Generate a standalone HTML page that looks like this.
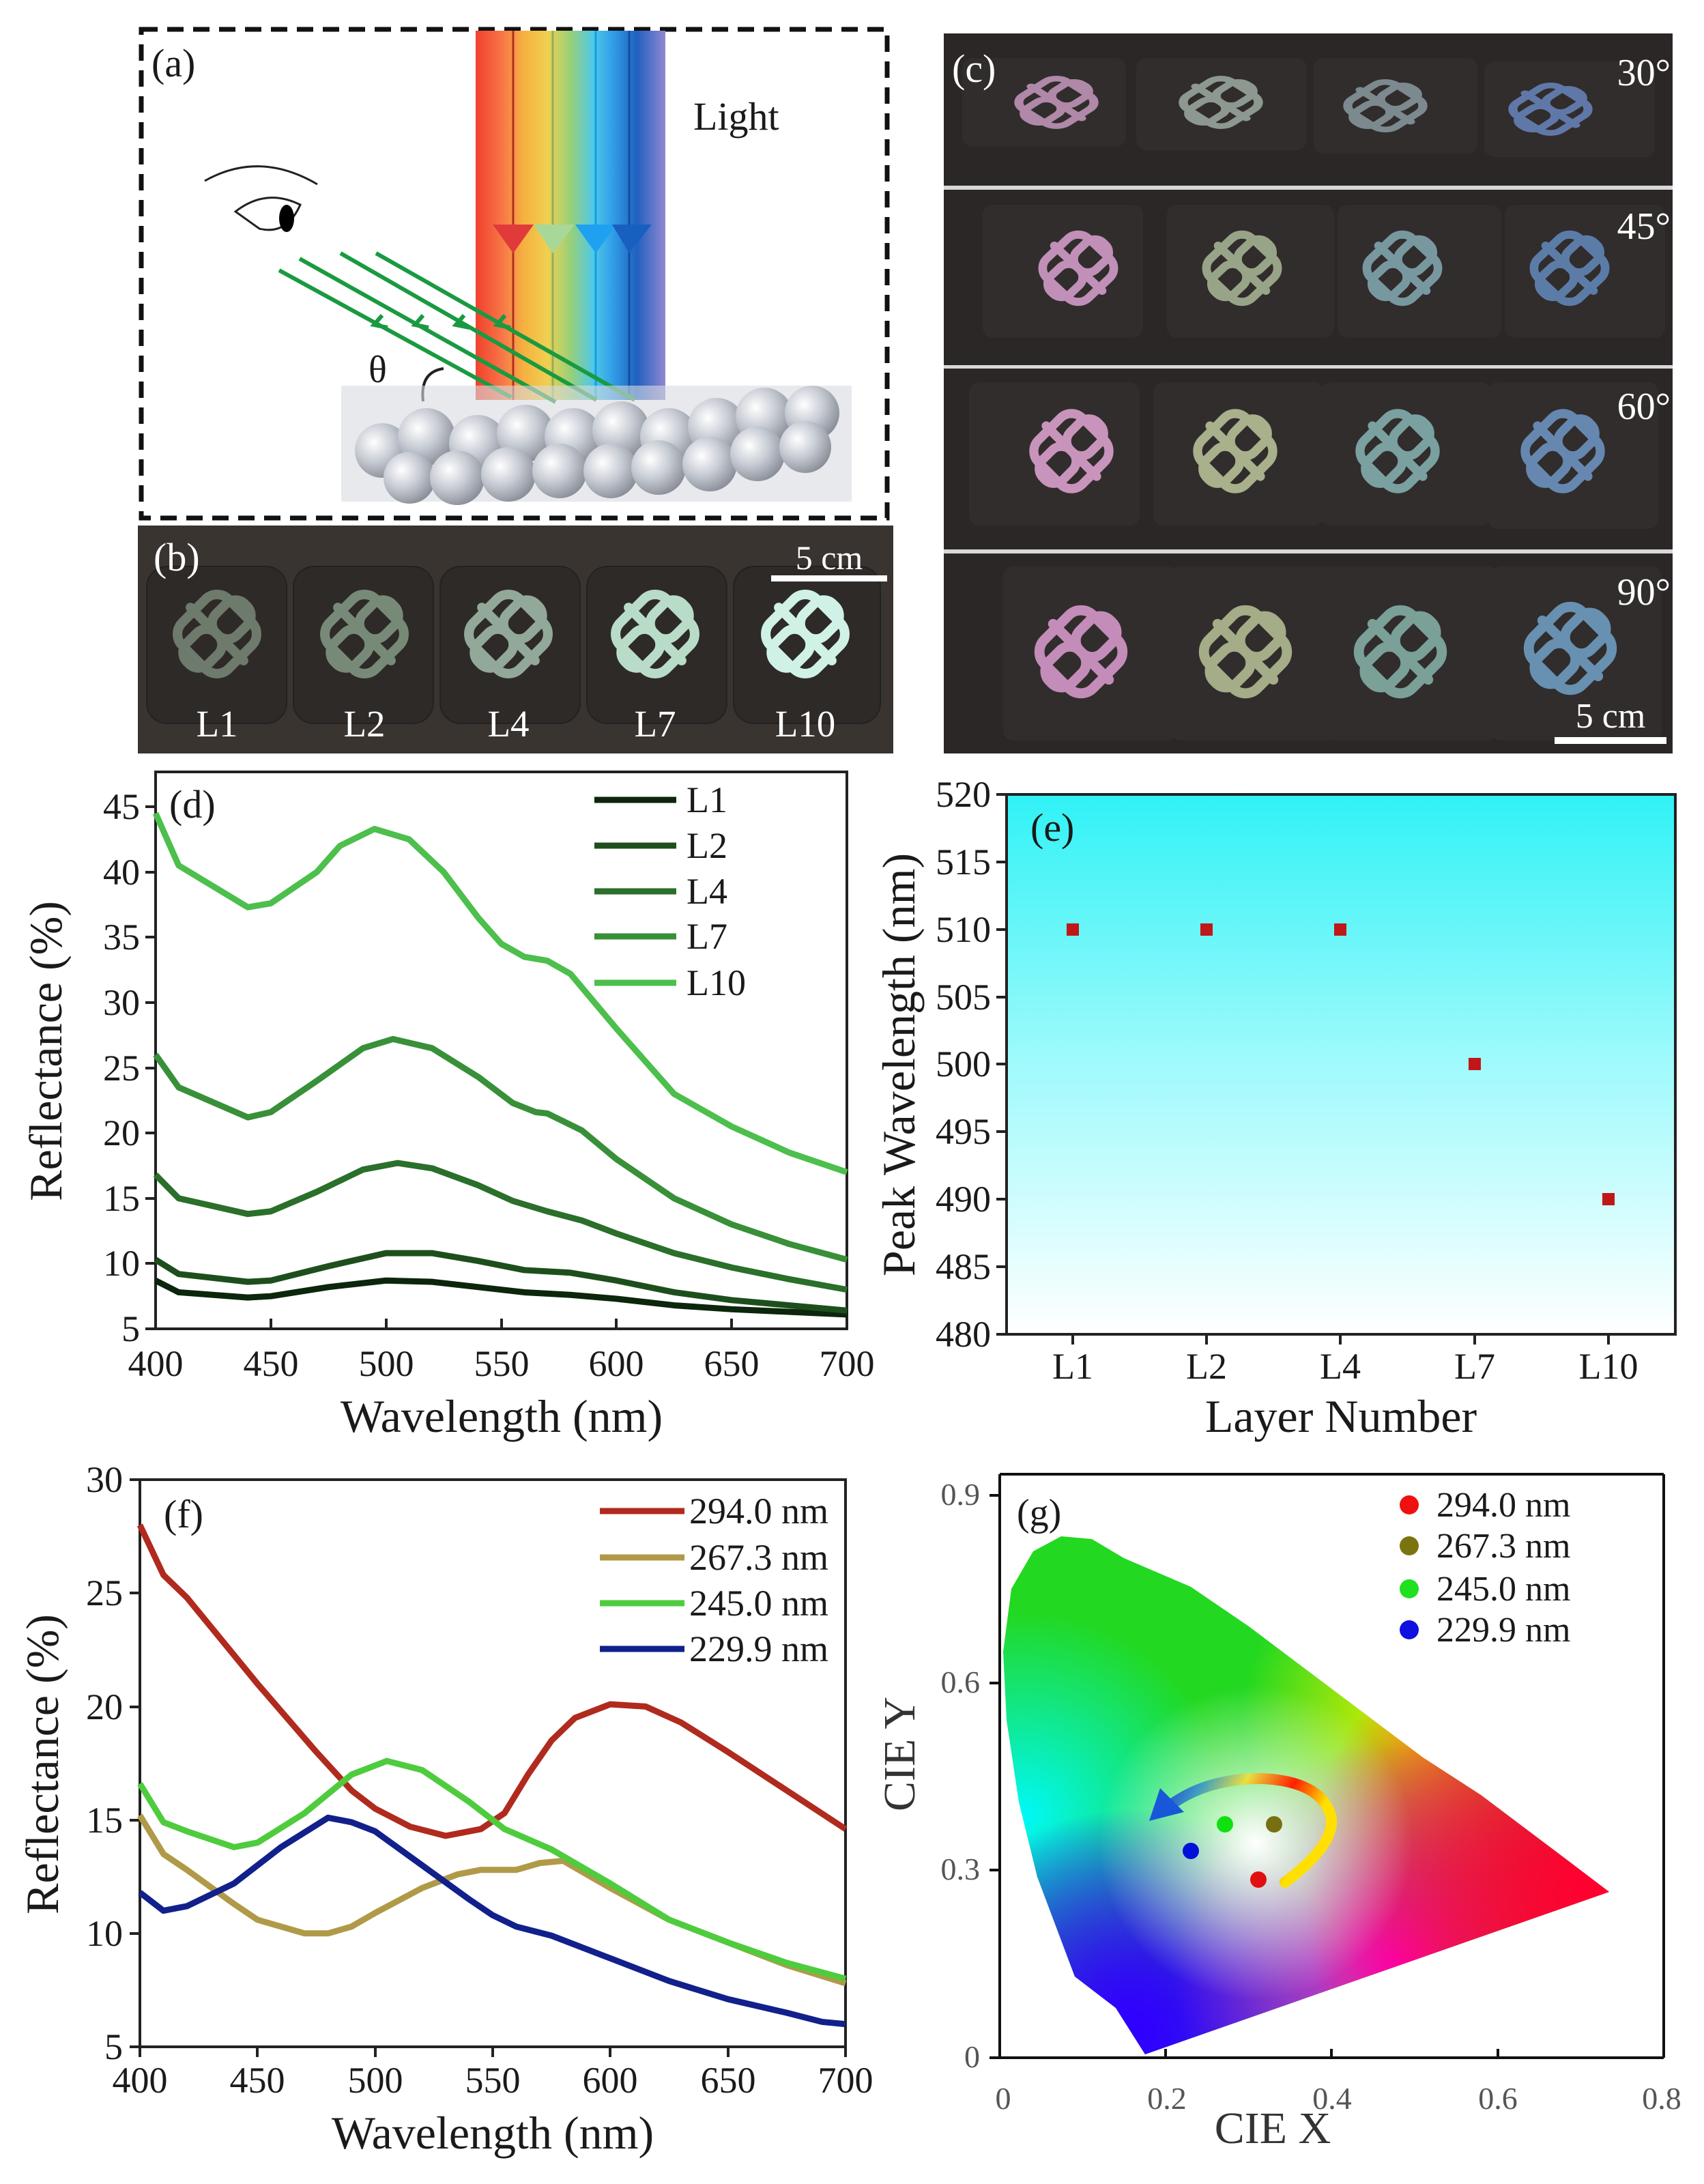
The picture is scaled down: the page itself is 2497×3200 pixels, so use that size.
<!DOCTYPE html>
<html><head><meta charset="utf-8"><style>
html,body{margin:0;padding:0;background:#fff}
svg{display:block}
text{font-family:"Liberation Serif",serif;fill:#1a1a1a}
</style></head><body>
<svg width="2497" height="3200" viewBox="0 0 2497 3200" xmlns="http://www.w3.org/2000/svg">
<defs>
<linearGradient id="rb" x1="0" x2="1" y1="0" y2="0">
<stop offset="0" stop-color="#f0402e"/><stop offset="0.15" stop-color="#f87a48"/><stop offset="0.25" stop-color="#f6b040"/><stop offset="0.38" stop-color="#f0d050"/><stop offset="0.5" stop-color="#98d078"/><stop offset="0.62" stop-color="#50c8e8"/><stop offset="0.72" stop-color="#30a0e8"/><stop offset="0.85" stop-color="#2060c0"/><stop offset="1" stop-color="#9088d0"/>
</linearGradient>
<radialGradient id="sph" cx="0.35" cy="0.35" r="0.7"><stop offset="0" stop-color="#ffffff"/><stop offset="0.5" stop-color="#c8ccd4"/><stop offset="1" stop-color="#8a8e98"/></radialGradient>
<linearGradient id="eg" x1="0" x2="0" y1="0" y2="1"><stop offset="0" stop-color="#30f2f6"/><stop offset="0.5" stop-color="#a0fafc"/><stop offset="1" stop-color="#ffffff"/></linearGradient>
<clipPath id="cie"><path d="M1678,3010 L1635,2942 L1575,2896 L1520,2750 L1493,2640 L1475,2520 L1470,2420 L1482,2328 L1514,2273 L1555,2251 L1600,2255 L1647,2283 L1745,2325 L1830,2383 L1915,2447 L2000,2511 L2085,2575 L2170,2630 L2243,2685 L2304,2731 L2358,2772 L1678,3010 Z"/></clipPath>
<radialGradient id="gW" cx="1840" cy="2700" r="230" gradientUnits="userSpaceOnUse"><stop offset="0" stop-color="#fff" stop-opacity="1"/><stop offset="1" stop-color="#fff" stop-opacity="0"/></radialGradient>
<radialGradient id="gR" cx="2358" cy="2770" r="450" gradientUnits="userSpaceOnUse"><stop offset="0" stop-color="#ff0030"/><stop offset="1" stop-color="#ff0030" stop-opacity="0"/></radialGradient>
<radialGradient id="gY" cx="2080" cy="2520" r="260" gradientUnits="userSpaceOnUse"><stop offset="0" stop-color="#f8f000"/><stop offset="1" stop-color="#f8f000" stop-opacity="0"/></radialGradient>
<radialGradient id="gM" cx="2050" cy="2880" r="330" gradientUnits="userSpaceOnUse"><stop offset="0" stop-color="#ff00ff"/><stop offset="1" stop-color="#ff00ff" stop-opacity="0"/></radialGradient>
<radialGradient id="gB" cx="1660" cy="2980" r="330" gradientUnits="userSpaceOnUse"><stop offset="0" stop-color="#3000ff"/><stop offset="1" stop-color="#3000ff" stop-opacity="0"/></radialGradient>
<radialGradient id="gC" cx="1500" cy="2660" r="300" gradientUnits="userSpaceOnUse"><stop offset="0" stop-color="#00f8f8"/><stop offset="1" stop-color="#00f8f8" stop-opacity="0"/></radialGradient>
<linearGradient id="arc" gradientUnits="userSpaceOnUse" x1="1880" y1="2760" x2="1690" y2="2660"><stop offset="0" stop-color="#ffe000"/><stop offset="0.25" stop-color="#ff2000"/><stop offset="0.55" stop-color="#e8e040"/><stop offset="0.8" stop-color="#40a0c0"/><stop offset="1" stop-color="#2050d0"/></linearGradient>
<g id="knot" fill="none" stroke-width="14" stroke-linecap="round">
<rect x="-48" y="-48" width="96" height="96" rx="24" transform="rotate(45)"/>
<rect x="-22" y="-60" width="44" height="60" rx="20" transform="rotate(45)"/>
<rect x="-22" y="0" width="44" height="60" rx="20" transform="rotate(45)"/>
<line x1="-55" y1="0" x2="55" y2="0" transform="rotate(45)"/>
</g>
</defs>

<!-- (a) -->
<rect x="207" y="43" width="1093" height="716" fill="#fff" stroke="#111" stroke-width="7" stroke-dasharray="24 14"/>
<text x="222" y="112" font-size="58">(a)</text>
<rect x="697" y="45" width="278" height="541" fill="url(#rb)"/>
<line x1="752" y1="45" x2="752" y2="586" stroke="#b03020" stroke-width="3"/>
<line x1="810" y1="45" x2="810" y2="586" stroke="#90b060" stroke-width="3"/>
<line x1="873" y1="45" x2="873" y2="586" stroke="#10a0e0" stroke-width="3"/>
<line x1="922" y1="45" x2="922" y2="586" stroke="#1050a0" stroke-width="3"/>
<polygon points="722,329 782,329 752,371" fill="#e03a3a"/>
<polygon points="782,329 842,329 810,371" fill="#a8d898"/>
<polygon points="843,329 903,329 873,371" fill="#20a0f0"/>
<polygon points="897,329 955,329 922,371" fill="#1860c0"/>
<text x="1016" y="190" font-size="58">Light</text>
<path d="M300,265 Q380,220 465,270" fill="none" stroke="#222" stroke-width="3"/>
<path d="M345,310 Q390,275 440,300 Q420,345 380,335 Z" fill="#fff" stroke="#222" stroke-width="3"/>
<ellipse cx="420" cy="320" rx="11" ry="20" fill="#000"/>
<g stroke="#1a9a40" stroke-width="6" fill="none">
<line x1="409" y1="396" x2="749" y2="582"/><line x1="439" y1="379" x2="814" y2="589"/>
<line x1="499" y1="371" x2="874" y2="586"/><line x1="551" y1="371" x2="930" y2="586"/>
<polyline points="560,462 548,476 568,480"/><polyline points="620,462 608,476 628,480"/>
<polyline points="680,462 668,476 688,480"/><polyline points="740,462 728,476 748,480"/>
</g>
<text x="540" y="560" font-size="56">θ</text>
<path d="M620,588 Q615,545 650,540" fill="none" stroke="#222" stroke-width="4"/>
<rect x="500" y="565" width="748" height="170" fill="#d8dadf" opacity="0.6"/>
<g fill="url(#sph)">
<circle cx="560" cy="660" r="40"/><circle cx="625" cy="640" r="42"/><circle cx="700" cy="650" r="42"/><circle cx="770" cy="635" r="42"/><circle cx="840" cy="640" r="42"/><circle cx="910" cy="630" r="42"/><circle cx="980" cy="640" r="42"/><circle cx="1050" cy="625" r="42"/><circle cx="1120" cy="610" r="42"/><circle cx="1190" cy="605" r="40"/>
<circle cx="600" cy="700" r="38"/><circle cx="670" cy="700" r="40"/><circle cx="745" cy="695" r="40"/><circle cx="820" cy="690" r="40"/><circle cx="895" cy="690" r="40"/><circle cx="965" cy="685" r="40"/><circle cx="1040" cy="680" r="40"/><circle cx="1110" cy="665" r="40"/><circle cx="1180" cy="655" r="38"/>
</g>

<!-- (b) -->
<rect x="202" y="770" width="1107" height="334" fill="#3a3431"/>
<g fill="#2e2a28" stroke="#222" stroke-width="2">
<rect x="215" y="830" width="205" height="230" rx="30"/><rect x="430" y="830" width="205" height="230" rx="30"/><rect x="645" y="830" width="205" height="230" rx="30"/><rect x="860" y="830" width="205" height="230" rx="30"/><rect x="1075" y="830" width="215" height="230" rx="30"/>
</g>
<use href="#knot" x="318" y="929" stroke="#6d7a6c"/>
<use href="#knot" x="534" y="929" stroke="#778a78"/>
<use href="#knot" x="745" y="929" stroke="#92a898"/>
<use href="#knot" x="960" y="929" stroke="#b8dcc8"/>
<use href="#knot" x="1180" y="929" stroke="#d0f2e6"/>
<text x="225" y="836" font-size="58" style="fill:#fff">(b)</text>
<text x="1215" y="834" font-size="50" text-anchor="middle" style="fill:#fff">5 cm</text>
<rect x="1130" y="843" width="170" height="9" fill="#fff"/>
<g font-size="55" text-anchor="middle" style="fill:#fff">
<text x="318" y="1079" style="fill:#fff">L1</text><text x="534" y="1079" style="fill:#fff">L2</text><text x="745" y="1079" style="fill:#fff">L4</text><text x="960" y="1079" style="fill:#fff">L7</text><text x="1180" y="1079" style="fill:#fff">L10</text>
</g>

<!-- (c) -->
<rect x="1383" y="49" width="1068" height="1055" fill="#2a2726"/>
<rect x="1383" y="272" width="1068" height="6" fill="#d8d8d8"/>
<rect x="1383" y="535" width="1068" height="5" fill="#d8d8d8"/>
<rect x="1383" y="805" width="1068" height="6" fill="#d8d8d8"/>
<g fill="#312d2c">
<rect x="1410" y="85" width="240" height="130" rx="15"/><rect x="1665" y="85" width="250" height="135" rx="15"/><rect x="1925" y="85" width="240" height="140" rx="15"/><rect x="2175" y="90" width="250" height="140" rx="15"/>
<rect x="1440" y="300" width="235" height="195" rx="15"/><rect x="1710" y="300" width="245" height="195" rx="15"/><rect x="1960" y="300" width="240" height="195" rx="15"/><rect x="2205" y="300" width="235" height="195" rx="15"/>
<rect x="1420" y="560" width="250" height="210" rx="15"/><rect x="1690" y="560" width="250" height="210" rx="15"/><rect x="1935" y="560" width="250" height="210" rx="15"/><rect x="2180" y="560" width="250" height="215" rx="15"/>
<rect x="1470" y="830" width="255" height="255" rx="15"/><rect x="1715" y="830" width="250" height="255" rx="15"/><rect x="1945" y="830" width="250" height="255" rx="15"/><rect x="2185" y="830" width="250" height="255" rx="15"/>
</g>
<g transform="translate(0,0)">
<use href="#knot" transform="translate(1548,150) scale(0.95,0.6)" stroke="#b088a8"/>
<use href="#knot" transform="translate(1789,150) scale(0.95,0.6)" stroke="#8c9890"/>
<use href="#knot" transform="translate(2030,155) scale(0.95,0.6)" stroke="#7c8a90"/>
<use href="#knot" transform="translate(2272,160) scale(0.95,0.6)" stroke="#6078a8"/>
<use href="#knot" transform="translate(1580,393) scale(0.9,0.85)" stroke="#c090b8"/>
<use href="#knot" transform="translate(1820,393) scale(0.9,0.85)" stroke="#98a488"/>
<use href="#knot" transform="translate(2055,393) scale(0.9,0.85)" stroke="#7898a0"/>
<use href="#knot" transform="translate(2300,393) scale(0.9,0.85)" stroke="#5c7ca8"/>
<use href="#knot" transform="translate(1570,661) scale(0.95,0.95)" stroke="#c894bc"/>
<use href="#knot" transform="translate(1810,661) scale(0.95,0.95)" stroke="#a8b08c"/>
<use href="#knot" transform="translate(2048,661) scale(0.95,0.95)" stroke="#7aa0a0"/>
<use href="#knot" transform="translate(2290,661) scale(0.95,0.95)" stroke="#6688b0"/>
<use href="#knot" transform="translate(1584,955) scale(1.05,1.05)" stroke="#c48cb8"/>
<use href="#knot" transform="translate(1825,955) scale(1.05,1.05)" stroke="#a4ac88"/>
<use href="#knot" transform="translate(2052,955) scale(1.05,1.05)" stroke="#7aa098"/>
<use href="#knot" transform="translate(2301,950) scale(1.05,1.05)" stroke="#6890b0"/>
</g>
<text x="1395" y="120" font-size="58" style="fill:#fff">(c)</text>
<g font-size="56" text-anchor="end">
<text x="2448" y="125" style="fill:#fff">30°</text><text x="2448" y="350" style="fill:#fff">45°</text><text x="2448" y="614" style="fill:#fff">60°</text><text x="2448" y="886" style="fill:#fff">90°</text>
</g>
<text x="2360" y="1066" font-size="52" text-anchor="middle" style="fill:#fff">5 cm</text>
<rect x="2278" y="1080" width="164" height="10" fill="#fff"/>

<!-- (d) -->
<g>
<rect x="228" y="1131" width="1013" height="816" fill="none" stroke="#222" stroke-width="4"/>
<g stroke="#222" stroke-width="4">
<line x1="213" y1="1182" x2="228" y2="1182"/><line x1="213" y1="1278" x2="228" y2="1278"/><line x1="213" y1="1373" x2="228" y2="1373"/><line x1="213" y1="1469" x2="228" y2="1469"/><line x1="213" y1="1565" x2="228" y2="1565"/><line x1="213" y1="1660" x2="228" y2="1660"/><line x1="213" y1="1756" x2="228" y2="1756"/><line x1="213" y1="1851" x2="228" y2="1851"/><line x1="213" y1="1947" x2="228" y2="1947"/>
<line x1="228" y1="1947" x2="228" y2="1932"/><line x1="397" y1="1947" x2="397" y2="1932"/><line x1="566" y1="1947" x2="566" y2="1932"/><line x1="735" y1="1947" x2="735" y2="1932"/><line x1="903" y1="1947" x2="903" y2="1932"/><line x1="1072" y1="1947" x2="1072" y2="1932"/>
</g>
<g font-size="54" text-anchor="end">
<text x="205" y="1200">45</text><text x="205" y="1296">40</text><text x="205" y="1391">35</text><text x="205" y="1487">30</text><text x="205" y="1583">25</text><text x="205" y="1678">20</text><text x="205" y="1774">15</text><text x="205" y="1869">10</text><text x="205" y="1965">5</text>
</g>
<g font-size="54" text-anchor="middle">
<text x="228" y="2016">400</text><text x="397" y="2016">450</text><text x="566" y="2016">500</text><text x="735" y="2016">550</text><text x="903" y="2016">600</text><text x="1072" y="2016">650</text><text x="1241" y="2016">700</text>
</g>
<text x="735" y="2098" font-size="68" text-anchor="middle">Wavelength (nm)</text>
<text transform="translate(90,1540) rotate(-90)" font-size="68" text-anchor="middle">Reflectance (%)</text>
<text x="248" y="1198" font-size="58">(d)</text>
<g transform="translate(228,1947) scale(3.3767,-19.125) translate(-400,-5)" fill="none" stroke-width="9" stroke-linejoin="round">
<polyline vector-effect="non-scaling-stroke" stroke="#0c260c" points="400,8.7 410,7.8 440,7.4 450,7.5 475,8.2 500,8.7 520,8.6 540,8.2 560,7.8 580,7.6 600,7.3 625,6.8 650,6.5 700,6.1"/>
<polyline vector-effect="non-scaling-stroke" stroke="#1d4f1d" points="400,10.3 410,9.2 440,8.6 450,8.7 475,9.8 500,10.8 520,10.8 540,10.2 560,9.5 580,9.3 600,8.7 625,7.8 650,7.2 700,6.4"/>
<polyline vector-effect="non-scaling-stroke" stroke="#2a6f2a" points="400,16.8 410,15 440,13.8 450,14 470,15.5 490,17.2 505,17.7 520,17.3 540,16 555,14.8 570,14 585,13.3 600,12.3 625,10.8 650,9.7 675,8.8 700,8"/>
<polyline vector-effect="non-scaling-stroke" stroke="#389038" points="400,26 410,23.5 440,21.2 450,21.6 470,24 490,26.5 503,27.2 520,26.5 540,24.3 555,22.3 565,21.6 570,21.5 585,20.2 600,18 625,15 650,13 675,11.5 700,10.3"/>
<polyline vector-effect="non-scaling-stroke" stroke="#4cbf4c" points="400,44.5 410,40.5 440,37.3 450,37.6 470,40 480,42 495,43.3 510,42.5 525,40 540,36.5 550,34.5 560,33.5 570,33.2 580,32.2 600,28 625,23 650,20.5 675,18.5 700,17"/>
</g>
<g stroke-width="9">
<line x1="871" y1="1172" x2="991" y2="1172" stroke="#0c260c"/><line x1="871" y1="1239" x2="991" y2="1239" stroke="#1d4f1d"/><line x1="871" y1="1306" x2="991" y2="1306" stroke="#2a6f2a"/><line x1="871" y1="1372" x2="991" y2="1372" stroke="#389038"/><line x1="871" y1="1440" x2="991" y2="1440" stroke="#4cbf4c"/>
</g>
<g font-size="54"><text x="1006" y="1190">L1</text><text x="1006" y="1257">L2</text><text x="1006" y="1324">L4</text><text x="1006" y="1390">L7</text><text x="1006" y="1458">L10</text></g>
</g>

<!-- (e) -->
<g>
<rect x="1475" y="1164" width="980" height="791" fill="url(#eg)" stroke="#222" stroke-width="4"/>
<g stroke="#222" stroke-width="4">
<line x1="1460" y1="1164" x2="1475" y2="1164"/><line x1="1460" y1="1263" x2="1475" y2="1263"/><line x1="1460" y1="1362" x2="1475" y2="1362"/><line x1="1460" y1="1461" x2="1475" y2="1461"/><line x1="1460" y1="1559" x2="1475" y2="1559"/><line x1="1460" y1="1658" x2="1475" y2="1658"/><line x1="1460" y1="1757" x2="1475" y2="1757"/><line x1="1460" y1="1856" x2="1475" y2="1856"/><line x1="1460" y1="1955" x2="1475" y2="1955"/>
<line x1="1572" y1="1955" x2="1572" y2="1970"/><line x1="1768" y1="1955" x2="1768" y2="1970"/><line x1="1964" y1="1955" x2="1964" y2="1970"/><line x1="2161" y1="1955" x2="2161" y2="1970"/><line x1="2357" y1="1955" x2="2357" y2="1970"/>
</g>
<g font-size="54" text-anchor="end">
<text x="1452" y="1182">520</text><text x="1452" y="1281">515</text><text x="1452" y="1380">510</text><text x="1452" y="1479">505</text><text x="1452" y="1577">500</text><text x="1452" y="1676">495</text><text x="1452" y="1775">490</text><text x="1452" y="1874">485</text><text x="1452" y="1973">480</text>
</g>
<g font-size="54" text-anchor="middle">
<text x="1572" y="2020">L1</text><text x="1768" y="2020">L2</text><text x="1964" y="2020">L4</text><text x="2161" y="2020">L7</text><text x="2357" y="2020">L10</text>
</g>
<text x="1965" y="2098" font-size="68" text-anchor="middle">Layer Number</text>
<text transform="translate(1340,1560) rotate(-90)" font-size="68" text-anchor="middle">Peak Wavelength (nm)</text>
<text x="1510" y="1232" font-size="58">(e)</text>
<g fill="#c01818">
<rect x="1563" y="1353" width="18" height="18"/><rect x="1759" y="1353" width="18" height="18"/><rect x="1955" y="1353" width="18" height="18"/><rect x="2152" y="1550" width="18" height="18"/><rect x="2348" y="1748" width="18" height="18"/>
</g>
</g>

<!-- (f) -->
<g>
<rect x="205" y="2168" width="1034" height="831" fill="none" stroke="#222" stroke-width="4"/>
<g stroke="#222" stroke-width="4">
<line x1="190" y1="2168" x2="205" y2="2168"/><line x1="190" y1="2334" x2="205" y2="2334"/><line x1="190" y1="2501" x2="205" y2="2501"/><line x1="190" y1="2667" x2="205" y2="2667"/><line x1="190" y1="2833" x2="205" y2="2833"/><line x1="190" y1="2999" x2="205" y2="2999"/>
<line x1="205" y1="2999" x2="205" y2="3014"/><line x1="377" y1="2999" x2="377" y2="3014"/><line x1="550" y1="2999" x2="550" y2="3014"/><line x1="722" y1="2999" x2="722" y2="3014"/><line x1="894" y1="2999" x2="894" y2="3014"/><line x1="1067" y1="2999" x2="1067" y2="3014"/><line x1="1239" y1="2999" x2="1239" y2="3014"/>
</g>
<g font-size="54" text-anchor="end">
<text x="180" y="2186">30</text><text x="180" y="2352">25</text><text x="180" y="2519">20</text><text x="180" y="2685">15</text><text x="180" y="2851">10</text><text x="180" y="3017">5</text>
</g>
<g font-size="54" text-anchor="middle">
<text x="205" y="3066">400</text><text x="377" y="3066">450</text><text x="550" y="3066">500</text><text x="722" y="3066">550</text><text x="894" y="3066">600</text><text x="1067" y="3066">650</text><text x="1239" y="3066">700</text>
</g>
<text x="722" y="3148" font-size="68" text-anchor="middle">Wavelength (nm)</text>
<text transform="translate(85,2585) rotate(-90)" font-size="68" text-anchor="middle">Reflectance (%)</text>
<text x="240" y="2238" font-size="58">(f)</text>
<g transform="translate(205,2999) scale(3.4467,-33.24) translate(-400,-5)" fill="none" stroke-width="9" stroke-linejoin="round">
<polyline vector-effect="non-scaling-stroke" stroke="#b02a1e" points="400,28 410,25.8 420,24.8 450,21 475,18 490,16.3 500,15.5 515,14.7 530,14.3 545,14.6 555,15.3 565,17 575,18.5 585,19.5 600,20.1 615,20 630,19.3 650,18 675,16.3 700,14.6"/>
<polyline vector-effect="non-scaling-stroke" stroke="#b09a48" points="400,15.2 410,13.5 420,12.8 440,11.3 450,10.6 470,10 480,10 490,10.3 500,10.9 520,12 535,12.6 545,12.8 560,12.8 570,13.1 580,13.2 600,12 625,10.6 650,9.6 675,8.6 700,7.8"/>
<polyline vector-effect="non-scaling-stroke" stroke="#4ecc3e" points="400,16.6 410,14.9 420,14.5 440,13.8 450,14 470,15.3 490,17 505,17.6 520,17.2 540,15.8 555,14.6 575,13.7 590,12.8 600,12.2 625,10.6 650,9.6 675,8.7 700,8"/>
<polyline vector-effect="non-scaling-stroke" stroke="#12208c" points="400,11.8 410,11 420,11.2 440,12.2 460,13.8 480,15.1 490,14.9 500,14.5 520,13 540,11.5 550,10.8 560,10.3 575,9.9 600,8.9 625,7.9 650,7.1 675,6.5 690,6.1 700,6"/>
</g>
<g stroke-width="9">
<line x1="879" y1="2214" x2="1003" y2="2214" stroke="#b02a1e"/><line x1="879" y1="2282" x2="1003" y2="2282" stroke="#b09a48"/><line x1="879" y1="2349" x2="1003" y2="2349" stroke="#4ecc3e"/><line x1="879" y1="2416" x2="1003" y2="2416" stroke="#12208c"/>
</g>
<g font-size="54"><text x="1010" y="2232">294.0 nm</text><text x="1010" y="2300">267.3 nm</text><text x="1010" y="2367">245.0 nm</text><text x="1010" y="2434">229.9 nm</text></g>
</g>

<!-- (g) -->
<g>
<g clip-path="url(#cie)">
<rect x="1460" y="2240" width="920" height="780" fill="#22d820"/>
<rect x="1460" y="2240" width="920" height="780" fill="url(#gC)"/>
<rect x="1460" y="2240" width="920" height="780" fill="url(#gY)"/>
<rect x="1460" y="2240" width="920" height="780" fill="url(#gB)"/>
<rect x="1460" y="2240" width="920" height="780" fill="url(#gB)"/>
<rect x="1460" y="2240" width="920" height="780" fill="url(#gM)"/>
<rect x="1460" y="2240" width="920" height="780" fill="url(#gR)"/>
<rect x="1460" y="2240" width="920" height="780" fill="url(#gR)"/>
<rect x="1460" y="2240" width="920" height="780" fill="url(#gW)"/>
</g>
<path d="M1465,2160 L1465,3015 L2438,3015" fill="none" stroke="#111" stroke-width="4"/>
<line x1="1465" y1="2160" x2="2438" y2="2160" stroke="#111" stroke-width="4"/>
<line x1="2438" y1="2160" x2="2438" y2="3015" stroke="#111" stroke-width="4"/>
<g stroke="#111" stroke-width="4">
<line x1="1450" y1="2191" x2="1465" y2="2191"/><line x1="1450" y1="2466" x2="1465" y2="2466"/><line x1="1450" y1="2740" x2="1465" y2="2740"/><line x1="1450" y1="3015" x2="1465" y2="3015"/>
<line x1="1708" y1="3015" x2="1708" y2="3002"/><line x1="1951" y1="3015" x2="1951" y2="3002"/><line x1="2195" y1="3015" x2="2195" y2="3002"/>
</g>
<g font-size="46" text-anchor="end" style="fill:#555">
<text x="1436" y="2205" style="fill:#555">0.9</text><text x="1436" y="2480" style="fill:#555">0.6</text><text x="1436" y="2754" style="fill:#555">0.3</text><text x="1436" y="3029" style="fill:#555">0</text>
</g>
<g font-size="46" text-anchor="middle">
<text x="1470" y="3090" style="fill:#555">0</text><text x="1710" y="3090" style="fill:#555">0.2</text><text x="1952" y="3090" style="fill:#555">0.4</text><text x="2195" y="3090" style="fill:#555">0.6</text><text x="2435" y="3090" style="fill:#555">0.8</text>
</g>
<text x="1865" y="3140" font-size="66" text-anchor="middle" style="fill:#333">CIE X</text>
<text transform="translate(1340,2570) rotate(-90)" font-size="66" text-anchor="middle" style="fill:#333">CIE Y</text>
<text x="1490" y="2235" font-size="56">(g)</text>
<path d="M1883,2758 Q1960,2700 1950,2660 Q1935,2610 1850,2606 Q1770,2605 1715,2645" fill="none" stroke="url(#arc)" stroke-width="16" stroke-linecap="round"/>
<polygon points="1684,2668 1700,2620 1735,2655" fill="#1858d8"/>
<circle cx="1795" cy="2673" r="12" fill="#10e010"/>
<circle cx="1867" cy="2673" r="12" fill="#787010"/>
<circle cx="1745" cy="2712" r="12" fill="#0010d8"/>
<circle cx="1844" cy="2754" r="12" fill="#e01010"/>
<circle cx="2065" cy="2205" r="14" fill="#f01010"/>
<circle cx="2065" cy="2265" r="14" fill="#7a7410"/>
<circle cx="2065" cy="2328" r="14" fill="#20e020"/>
<circle cx="2065" cy="2388" r="14" fill="#1010e0"/>
<g font-size="52"><text x="2105" y="2222">294.0 nm</text><text x="2105" y="2282">267.3 nm</text><text x="2105" y="2345">245.0 nm</text><text x="2105" y="2405">229.9 nm</text></g>
</g>
</svg>
</body></html>
